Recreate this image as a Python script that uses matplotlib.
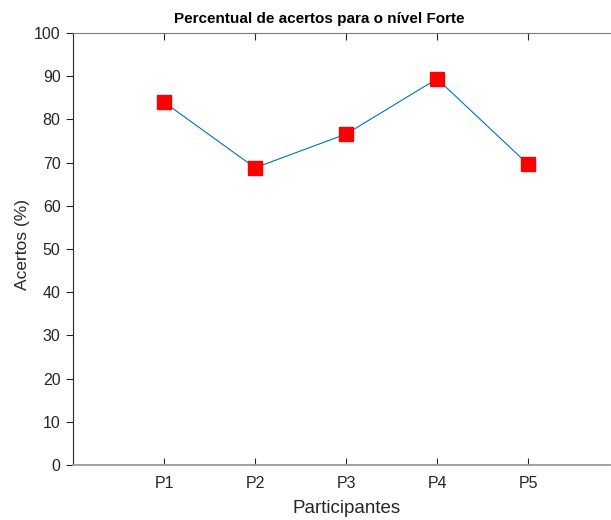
import matplotlib.pyplot as plt

participantes = ["P1", "P2", "P3", "P4", "P5"]
acertos = [84.0, 68.8, 76.6, 89.4, 69.6]
y_ticks = [0, 10, 20, 30, 40, 50, 60, 70, 80, 90, 100]

plt.rcParams['font.family'] = ['Liberation Sans', 'DejaVu Sans']

fig = plt.figure(figsize=(6.11, 5.2), dpi=100)
ax = fig.add_axes([73 / 611, 1 - 465 / 520, 537 / 611, 432 / 520])

x = list(range(1, len(participantes) + 1))
ax.plot(x, acertos, color="#0072BD", linewidth=0.8,
        marker="s", markersize=10, markerfacecolor="red", markeredgecolor="red")

ax.set_xlim(0, 5.9)
ax.set_ylim(0, 100)
ax.set_xticks(x)
ax.set_xticklabels(participantes)
ax.set_yticks(y_ticks)

ax.tick_params(axis="x", direction="in", top=True, length=5, width=0.8,
               colors="#262626", labelsize=11.5, pad=8)
ax.tick_params(axis="y", direction="out", length=5, width=0.8,
               colors="#262626", labelsize=11.5, pad=4)
for s in ax.spines.values():
    s.set_color("#262626")
    s.set_linewidth(0.8)
ax.spines["top"].set_color("#7a7a7a")
ax.spines["bottom"].set_color("#9a9a9a")
ax.spines["bottom"].set_linewidth(1.3)
ax.spines["right"].set_visible(False)

ax.set_title("Percentual de acertos para o nível Forte", fontsize=11,
             fontweight="bold", pad=7, x=0.458)
ax.set_xlabel("Participantes", fontsize=13.5, color="#262626")
ax.xaxis.set_label_coords(0.509, -0.08)
ax.set_ylabel("Acertos (%)", fontsize=12.5, color="#262626")
ax.yaxis.set_label_coords(-0.08, 0.51)

fig.savefig("out.png", dpi=100)
